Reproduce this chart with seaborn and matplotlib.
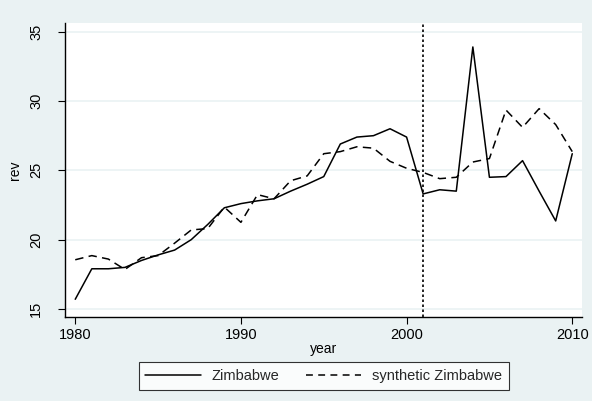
import matplotlib
matplotlib.use("Agg")
import matplotlib.pyplot as plt
import seaborn as sns
import pandas as pd
from matplotlib.lines import Line2D

years = list(range(1980, 2011))
zimbabwe = [15.7, 17.9, 17.9, 18.0, 18.5, 18.9, 19.25, 20.0, 21.1, 22.3,
            22.6, 22.8, 22.95, 23.5, 24.0, 24.55, 26.9, 27.4, 27.5, 28.0,
            27.4, 23.3, 23.6, 23.5, 33.9, 24.5, 24.55, 25.7, 23.5, 21.35, 26.2]
synthetic = [18.55, 18.85, 18.6, 17.85, 18.7, 18.85, 19.75, 20.7, 20.8, 22.35,
             21.25, 23.25, 22.95, 24.25, 24.6, 26.2, 26.35, 26.7, 26.6, 25.65,
             25.15, 24.85, 24.4, 24.5, 25.6, 25.85, 29.35, 28.1, 29.45, 28.3, 26.35]
series_names = ["Zimbabwe", "synthetic Zimbabwe"]
treatment_year = 2001
y_ticks = [15, 20, 25, 30, 35]
x_ticks = [1980, 1990, 2000, 2010]

df = pd.DataFrame({
    "year": years * 2,
    "rev": zimbabwe + synthetic,
    "unit": [series_names[0]] * len(years) + [series_names[1]] * len(years),
})

sns.set_theme(style="white")
plt.rcParams["font.family"] = ["Liberation Sans", "DejaVu Sans"]

bg = "#EAF2F3"
fig = plt.figure(figsize=(5.92, 4.01), dpi=100, facecolor=bg)
ax = fig.add_axes([65.3 / 592, 1 - 317.3 / 401, (581.7 - 65.3) / 592, (317.3 - 22.7) / 401])
ax.set_facecolor("white")

sns.lineplot(data=df, x="year", y="rev", hue="unit", style="unit",
             palette=["black", "black"], dashes=[(None, None), (5.5, 3.5)],
             linewidth=1.1, ax=ax, legend=False)

ax.axvline(treatment_year, color="black", linestyle=(0, (1.5, 1.5)), linewidth=1.2)

ax.set_xlim(1979.40, 2010.57)
ax.set_ylim(14.40, 35.65)
ax.set_xticks(x_ticks)
ax.set_yticks(y_ticks)
ax.set_yticklabels([str(t) for t in y_ticks], rotation=90, va="center")
ax.grid(axis="y", color=bg, linewidth=1.2)
ax.set_axisbelow(True)

for s in ["top", "right"]:
    ax.spines[s].set_visible(False)
for s in ["left", "bottom"]:
    ax.spines[s].set_color("black")
    ax.spines[s].set_linewidth(1.0)

ax.tick_params(axis="both", which="major", direction="out", length=5, width=0.8,
               color="black", labelsize=10.5, labelcolor="black", pad=3, left=True, bottom=True)
ax.tick_params(axis="y", pad=11)
ax.set_xlabel("year", fontsize=10, color="black", labelpad=0)
ax.set_ylabel("rev", fontsize=10, color="black", labelpad=5)

handles = [Line2D([], [], color="black", linewidth=1.1),
           Line2D([], [], color="black", linewidth=1.1, linestyle=(0, (4.5, 3.5)))]
leg = fig.legend(handles, series_names, loc="center", bbox_to_anchor=(323.8 / 592, 1 - 376 / 401),
                 ncol=2, frameon=True, fancybox=False, fontsize=10.5, handlelength=3.8,
                 columnspacing=1.8, borderpad=0.45, handletextpad=0.75)
leg.get_frame().set_edgecolor("black")
leg.get_frame().set_linewidth(0.8)
leg.get_frame().set_facecolor("white")

fig.savefig("out.png", dpi=100, facecolor=bg)
